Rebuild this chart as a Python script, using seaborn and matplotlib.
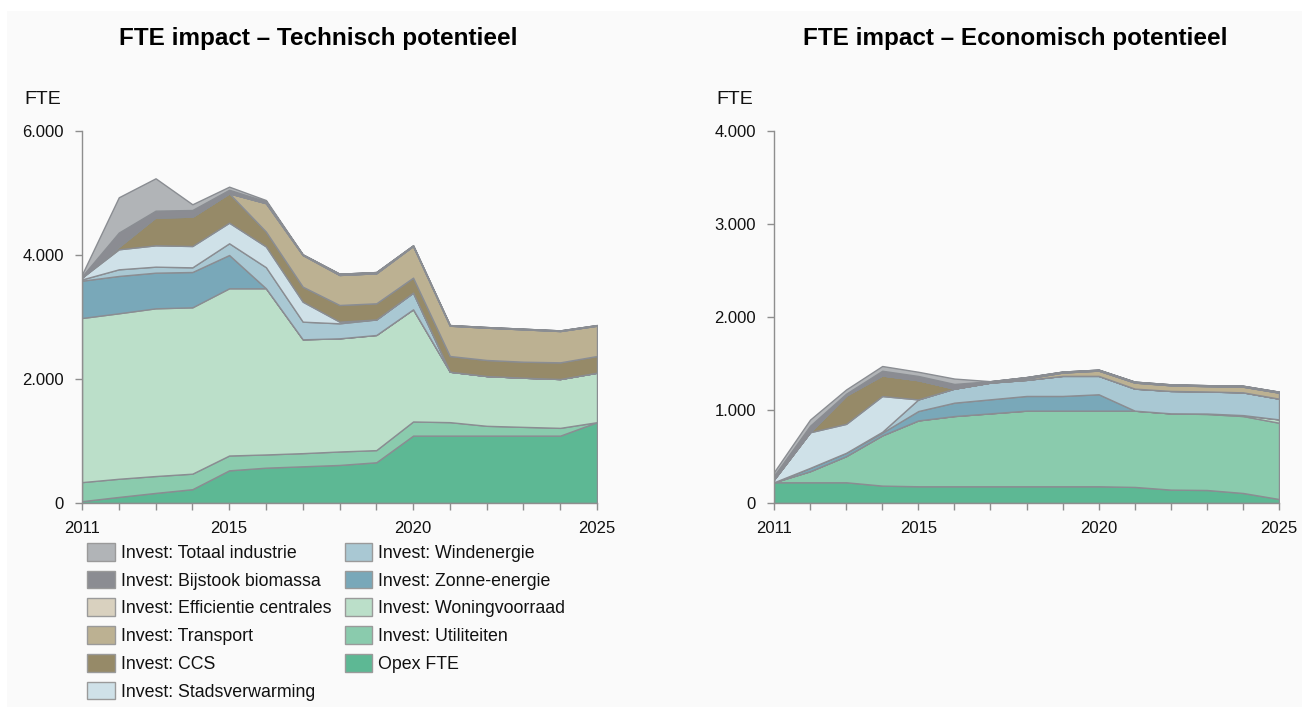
import numpy as np
import pandas as pd
import matplotlib
matplotlib.use("Agg")
import matplotlib.pyplot as plt
import seaborn as sns
from matplotlib.patches import Patch, Rectangle
from matplotlib.ticker import FuncFormatter

# ---------------- data ----------------
years = list(range(2011, 2026))
labeled_years = [2011, 2015, 2020, 2025]

# series listed bottom -> top of the stack
series_names = [
    "Opex FTE",
    "Invest: Utiliteiten",
    "Invest: Woningvoorraad",
    "Invest: Zonne-energie",
    "Invest: Windenergie",
    "Invest: Stadsverwarming",
    "Invest: CCS",
    "Invest: Transport",
    "Invest: Efficientie centrales",
    "Invest: Bijstook biomassa",
    "Invest: Totaal industrie",
]

# Technisch potentieel (left)
tech_opex     = [30, 98, 163, 223, 527, 570, 592, 614, 657, 1087, 1087, 1087, 1087, 1087, 1304]
tech_util     = [307, 293, 272, 250, 239, 213, 212, 217, 196, 228, 217, 158, 141, 125, 0]
tech_woning   = [2647, 2669, 2705, 2683, 2697, 2680, 1836, 1825, 1857, 1809, 814, 803, 793, 788, 798]
tech_zonne    = [602, 602, 575, 570, 537, 0, 0, 0, 0, 0, 0, 0, 0, 0, 0]
tech_wind     = [20, 107, 97, 75, 189, 340, 285, 242, 250, 269, 0, 0, 0, 0, 0]
tech_stads    = [30, 323, 344, 344, 332, 335, 322, 27, 0, 0, 0, 0, 0, 0, 0]
tech_ccs      = [0, 40, 452, 473, 474, 240, 242, 269, 261, 242, 253, 259, 258, 269, 269]
tech_transp   = [0, 0, 0, 0, 0, 458, 511, 484, 484, 511, 489, 521, 522, 505, 489]
tech_effic    = [0, 30, 0, 0, 0, 0, 0, 0, 0, 0, 0, 0, 0, 0, 0]
tech_bijstook = [20, 200, 107, 108, 57, 30, 10, 20, 20, 10, 10, 10, 10, 10, 10]
tech_industr  = [30, 569, 522, 92, 50, 20, 0, 0, 0, 0, 0, 0, 0, 0, 0]

# Economisch potentieel (right)
eco_opex     = [223, 223, 223, 187, 180, 180, 180, 180, 180, 180, 173, 144, 140, 108, 43]
eco_util     = [0, 119, 281, 540, 708, 755, 784, 813, 813, 813, 820, 820, 817, 827, 820]
eco_woning   = [0, 0, 0, 0, 0, 0, 0, 0, 0, 0, 0, 0, 5, 10, 36]
eco_zonne    = [0, 36, 36, 29, 101, 144, 151, 158, 158, 176, 0, 0, 0, 0, 0]
eco_wind     = [0, 0, 0, 10, 125, 151, 180, 173, 216, 198, 237, 241, 237, 245, 223]
eco_stads    = [30, 383, 311, 384, 0, 0, 0, 0, 0, 0, 0, 0, 0, 0, 0]
eco_ccs      = [0, 0, 305, 222, 207, 0, 0, 0, 0, 0, 0, 0, 0, 0, 0]
eco_transp   = [0, 0, 0, 0, 0, 0, 0, 15, 36, 57, 65, 61, 58, 61, 65]
eco_effic    = [0, 0, 0, 0, 0, 0, 0, 0, 0, 0, 0, 0, 0, 0, 0]
eco_bijstook = [40, 70, 20, 50, 45, 50, 15, 15, 10, 10, 10, 10, 10, 10, 10]
eco_industr  = [40, 66, 45, 51, 45, 58, 0, 0, 0, 0, 0, 0, 0, 0, 0]

series_colors = [
    "#5db894",  # Opex FTE
    "#8acbad",  # Utiliteiten
    "#bbdfc9",  # Woningvoorraad
    "#79a8b9",  # Zonne-energie
    "#a9c8d3",  # Windenergie
    "#cfe1e8",  # Stadsverwarming
    "#968a68",  # CCS
    "#bcb192",  # Transport
    "#d9d1bf",  # Efficientie centrales
    "#8b8c92",  # Bijstook biomassa
    "#b1b4b7",  # Totaal industrie
]

titles = ["FTE impact \u2013 Technisch potentieel", "FTE impact \u2013 Economisch potentieel"]
y_label = "FTE"
left_yticks = [0, 2000, 4000, 6000]
right_yticks = [0, 1000, 2000, 3000, 4000]

tech = pd.DataFrame(dict(zip(series_names, [tech_opex, tech_util, tech_woning, tech_zonne, tech_wind,
                                              tech_stads, tech_ccs, tech_transp, tech_effic,
                                              tech_bijstook, tech_industr])), index=years)
eco = pd.DataFrame(dict(zip(series_names, [eco_opex, eco_util, eco_woning, eco_zonne, eco_wind,
                                             eco_stads, eco_ccs, eco_transp, eco_effic,
                                             eco_bijstook, eco_industr])), index=years)

# ---------------- style ----------------
sns.set_theme(style="white")
plt.rcParams["font.family"] = ["Liberation Sans", "DejaVu Sans"]
plt.rcParams["text.color"] = "#111111"

W, H = 1302, 707
fig = plt.figure(figsize=(W / 100, H / 100), dpi=100, facecolor="white")
fig.patches.append(Rectangle((7 / W, 0), 1, (H - 11) / H, transform=fig.transFigure,
                             facecolor="#fafafa", edgecolor="none", zorder=-10))

axis_gray = "#8e8e8e"
edge_gray = "#8a8d92"


def fmt(v, pos=None):
    return f"{int(round(v)):,}".replace(",", ".")


def draw(ax, df, ymax, yticks):
    ax.set_facecolor("none")
    ax.stackplot(df.index.values, df.T.values, colors=series_colors,
                 edgecolor=edge_gray, linewidth=1.0)
    ax.set_xlim(years[0], years[-1])
    ax.set_ylim(0, ymax)
    ax.set_xticks(years)
    ax.set_xticklabels([str(y) if y in labeled_years else "" for y in years])
    ax.set_yticks(yticks)
    ax.yaxis.set_major_formatter(FuncFormatter(fmt))
    sns.despine(ax=ax, top=True, right=True)
    for s in ["left", "bottom"]:
        ax.spines[s].set_color(axis_gray)
        ax.spines[s].set_linewidth(1.0)
    ax.tick_params(axis="x", direction="out", length=5, width=1, color=axis_gray,
                   labelsize=12, labelcolor="#111111", pad=8, bottom=True)
    ax.tick_params(axis="y", direction="out", length=5, width=1, color=axis_gray,
                   labelsize=12, labelcolor="#111111", pad=8, left=True)
    ax.grid(False)


ax1 = fig.add_axes([82 / W, (H - 503) / H, 515 / W, 372 / H])
ax2 = fig.add_axes([774 / W, (H - 503) / H, 505 / W, 372 / H])
draw(ax1, tech, 6000, left_yticks)
draw(ax2, eco, 4000, right_yticks)

# titles
fig.text(318 / W, 1 - 38 / H, titles[0], ha="center", va="center",
         fontsize=17.5, fontweight="bold", color="black")
fig.text(1015 / W, 1 - 38 / H, titles[1], ha="center", va="center",
         fontsize=17.5, fontweight="bold", color="black")

# y unit labels
fig.text(24 / W, 1 - 100 / H, y_label, ha="left", va="center", fontsize=14, color="#111111")
fig.text(716 / W, 1 - 100 / H, y_label, ha="left", va="center", fontsize=14, color="#111111")

# legend (top of stack first)
order = list(range(len(series_names)))[::-1]
handles = [Patch(facecolor=series_colors[i], edgecolor="#9a9a9a", linewidth=1.0) for i in order]
labels = [series_names[i] for i in order]
fig.legend(handles, labels, loc="upper left", bbox_to_anchor=(87 / W, 1 - 543 / H),
           ncol=2, frameon=False, fontsize=12.8, handlelength=1.55, handleheight=1.15,
           handletextpad=0.35, columnspacing=0.75, labelspacing=0.5, borderpad=0,
           borderaxespad=0)

fig.savefig("out.png", dpi=100, facecolor=fig.get_facecolor())
